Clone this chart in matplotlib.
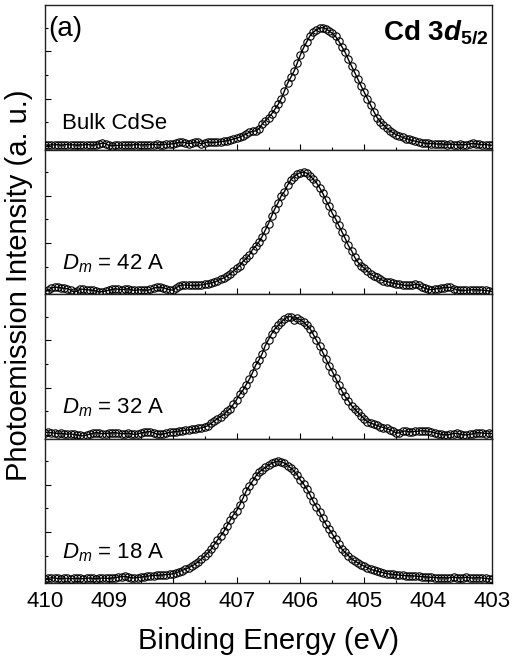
import numpy as np
import matplotlib
matplotlib.use("Agg")
import matplotlib.pyplot as plt
from matplotlib.ticker import MultipleLocator

plt.rcParams['font.family'] = ['Liberation Sans', 'DejaVu Sans']
plt.rcParams['mathtext.fontset'] = 'custom'
plt.rcParams['mathtext.rm'] = 'Liberation Sans'
plt.rcParams['mathtext.it'] = 'Liberation Sans:italic'
plt.rcParams['mathtext.bf'] = 'Liberation Sans:bold'
plt.rcParams['mathtext.sf'] = 'Liberation Sans:bold:italic'

# Binding-energy grid of the scans (eV), 410 -> 403 in 0.05 eV steps
energy = np.linspace(410.0, 403.0, 141)

labels = ["Bulk CdSe", r"$D_m$ = 42 A", r"$D_m$ = 32 A", r"$D_m$ = 18 A"]

bulk = [
    0.010, 0.006, 0.010, 0.008, 0.012, 0.006, 0.010, 0.012, 0.008, 0.010,
    0.006, 0.010, 0.008, 0.012, 0.010, 0.006, 0.012, 0.018, 0.024, 0.020,
    0.004, 0.002, 0.006, 0.004, 0.008, 0.006, 0.010, 0.008, 0.010, 0.012,
    0.008, 0.010, 0.012, 0.010, 0.012, 0.014, 0.010, 0.012, 0.016, 0.014,
    0.020, 0.024, 0.030, 0.032, 0.028, 0.020, 0.024, 0.034, 0.030, 0.016,
    0.026, 0.034, 0.030, 0.030, 0.032, 0.036, 0.040, 0.045, 0.052, 0.058,
    0.065, 0.075, 0.088, 0.100, 0.116, 0.122, 0.128, 0.145, 0.185, 0.212,
    0.240, 0.272, 0.310, 0.350, 0.400, 0.465, 0.530, 0.580, 0.630, 0.700,
    0.770, 0.830, 0.880, 0.930, 0.960, 0.980, 0.995, 1.000, 0.990, 0.970,
    0.950, 0.925, 0.885, 0.838, 0.790, 0.730, 0.676, 0.620, 0.563, 0.507,
    0.452, 0.400, 0.345, 0.290, 0.240, 0.205, 0.178, 0.150, 0.130, 0.110,
    0.095, 0.085, 0.072, 0.062, 0.055, 0.046, 0.040, 0.034, 0.028, 0.024,
    0.022, 0.020, 0.018, 0.016, 0.018, 0.014, 0.012, 0.016, 0.012, 0.010,
    0.014, 0.010, 0.012, 0.016, 0.022, 0.018, 0.014, 0.010, 0.012, 0.008,
    0.006]

dm42 = [
    -0.010, 0.000, 0.020, 0.028, 0.026, 0.022, 0.018, 0.014, 0.004, -0.012,
    -0.006, 0.012, 0.010, 0.006, 0.004, 0.002, -0.004, -0.012, -0.010, -0.004,
    0.002, 0.008, 0.014, 0.010, 0.006, 0.010, 0.014, 0.006, 0.000, 0.004,
    0.006, 0.004, 0.000, 0.008, 0.018, 0.026, 0.028, 0.024, 0.014, 0.006,
    0.002, 0.020, 0.040, 0.046, 0.046, 0.044, 0.042, 0.042, 0.044, 0.047,
    0.052, 0.058, 0.064, 0.070, 0.082, 0.094, 0.106, 0.120, 0.140, 0.165,
    0.186, 0.210, 0.245, 0.270, 0.300, 0.345, 0.375, 0.410, 0.455, 0.510,
    0.565, 0.630, 0.690, 0.740, 0.800, 0.835, 0.890, 0.935, 0.960, 0.982,
    0.995, 1.000, 0.990, 0.968, 0.940, 0.910, 0.868, 0.820, 0.760, 0.710,
    0.650, 0.605, 0.550, 0.495, 0.440, 0.380, 0.336, 0.280, 0.238, 0.210,
    0.188, 0.160, 0.136, 0.122, 0.110, 0.094, 0.083, 0.075, 0.069, 0.062,
    0.056, 0.052, 0.046, 0.042, 0.042, 0.044, 0.054, 0.048, 0.030, 0.018,
    0.010, 0.006, 0.012, 0.016, 0.020, 0.024, 0.026, 0.026, 0.016, 0.006,
    0.002, 0.000, 0.000, 0.004, 0.006, 0.006, 0.004, 0.002, 0.000, -0.004,
    -0.010]

dm32 = [
    0.020, 0.024, 0.018, 0.016, 0.012, 0.014, 0.010, 0.006, 0.010, 0.004,
    0.000, -0.004, -0.008, 0.000, 0.006, 0.014, 0.020, 0.016, 0.010, 0.012,
    0.016, 0.018, 0.020, 0.014, 0.010, 0.012, 0.016, 0.010, 0.004, 0.008,
    0.016, 0.022, 0.026, 0.028, 0.018, 0.008, 0.004, 0.008, 0.014, 0.022,
    0.025, 0.028, 0.032, 0.037, 0.040, 0.043, 0.046, 0.050, 0.055, 0.060,
    0.068, 0.078, 0.098, 0.118, 0.136, 0.155, 0.173, 0.200, 0.222, 0.258,
    0.298, 0.342, 0.378, 0.425, 0.470, 0.525, 0.590, 0.632, 0.685, 0.755,
    0.805, 0.855, 0.895, 0.925, 0.952, 0.980, 0.995, 1.000, 0.970, 0.985,
    0.972, 0.952, 0.925, 0.898, 0.850, 0.800, 0.753, 0.697, 0.640, 0.584,
    0.535, 0.480, 0.425, 0.370, 0.325, 0.290, 0.248, 0.218, 0.190, 0.163,
    0.135, 0.112, 0.100, 0.090, 0.080, 0.070, 0.062, 0.055, 0.045, 0.032,
    0.016, 0.018, 0.030, 0.034, 0.026, 0.028, 0.030, 0.032, 0.036, 0.034,
    0.030, 0.026, 0.018, 0.012, 0.006, 0.002, 0.000, 0.006, 0.012, 0.014,
    0.008, 0.002, 0.000, 0.004, 0.010, 0.018, 0.020, 0.016, 0.012, 0.014,
    0.012]

dm18 = [
    0.004, 0.010, 0.014, 0.012, 0.008, 0.006, 0.010, 0.008, 0.006, 0.008,
    0.010, 0.008, 0.006, 0.010, 0.012, 0.008, 0.006, 0.010, 0.012, 0.010,
    0.008, 0.012, 0.016, 0.020, 0.024, 0.026, 0.020, 0.014, 0.012, 0.016,
    0.020, 0.024, 0.028, 0.031, 0.033, 0.035, 0.037, 0.039, 0.041, 0.043,
    0.048, 0.056, 0.066, 0.075, 0.087, 0.100, 0.113, 0.130, 0.150, 0.173,
    0.197, 0.224, 0.255, 0.295, 0.332, 0.368, 0.405, 0.453, 0.500, 0.545,
    0.580, 0.630, 0.685, 0.745, 0.790, 0.830, 0.872, 0.905, 0.925, 0.946,
    0.965, 0.980, 0.992, 1.000, 0.995, 0.982, 0.962, 0.940, 0.915, 0.882,
    0.838, 0.805, 0.765, 0.715, 0.660, 0.615, 0.570, 0.515, 0.465, 0.425,
    0.382, 0.340, 0.297, 0.255, 0.228, 0.202, 0.175, 0.156, 0.140, 0.125,
    0.111, 0.098, 0.085, 0.077, 0.070, 0.063, 0.057, 0.049, 0.046, 0.043,
    0.039, 0.036, 0.034, 0.032, 0.031, 0.030, 0.029, 0.026, 0.024, 0.022,
    0.020, 0.018, 0.016, 0.014, 0.015, 0.014, 0.012, 0.016, 0.018, 0.016,
    0.014, 0.016, 0.018, 0.014, 0.012, 0.014, 0.016, 0.012, 0.008, 0.006,
    0.002]

series = [bulk, dm42, dm32, dm18]

W, H = 512, 660
fig = plt.figure(figsize=(W / 100, H / 100), dpi=100)

left_px, right_px, top_px, bot_px = 45, 492, 5, 583
ph = (bot_px - top_px) / 4.0

axes = []
for i, (vals, lab) in enumerate(zip(series, labels)):
    y0 = top_px + ph * (i + 1)
    ax = fig.add_axes([left_px / W, 1 - y0 / H, (right_px - left_px) / W, ph / H])
    axes.append(ax)
    ax.plot(energy, vals, color='black', lw=1.0, zorder=2)
    ax.plot(energy, vals, linestyle='none', marker='o', ms=5.3, mfc='none',
            mec='black', mew=0.8, zorder=3)
    ax.set_xlim(410, 403)
    ax.set_ylim(-0.03, 1.19)
    ax.xaxis.set_major_locator(MultipleLocator(1))
    ax.xaxis.set_minor_locator(MultipleLocator(0.5))
    ax.yaxis.set_major_locator(MultipleLocator(0.4))
    ax.yaxis.set_minor_locator(MultipleLocator(0.2))
    ax.tick_params(axis='both', which='both', direction='in', top=False, right=False)
    ax.tick_params(axis='both', which='major', length=4, width=0.8)
    ax.tick_params(axis='both', which='minor', length=2.5, width=0.8)
    ax.tick_params(axis='y', labelleft=False)
    ax.tick_params(axis='x', labelsize=16, pad=6, colors='black')
    if i < 3:
        ax.tick_params(axis='x', labelbottom=False)
    for sp in ax.spines.values():
        sp.set_linewidth(1.0)
        sp.set_color('#222222')
    ybase = 0.145 if i == 0 else 0.18
    ax.text(409.73, ybase, lab, fontsize=16, ha='left', va='baseline')

axes[0].text(409.95, 0.93, "(a)", fontsize=20, ha='left', va='baseline')
axes[0].text(403.05, 0.90, r"$\mathbf{Cd\ 3}\mathsf{d}_{\mathbf{5/2}}$", fontsize=20,
             ha='right', va='baseline')

fig.text(0.5 * (left_px + right_px) / W, 1 - 641 / H, "Binding Energy (eV)",
         fontsize=21, ha='center', va='center')
fig.text(19 / W, 1 - 285 / H, "Photoemission Intensity (a. u.)",
         fontsize=21, ha='center', va='center', rotation=90)

fig.savefig("out.png", dpi=100)
